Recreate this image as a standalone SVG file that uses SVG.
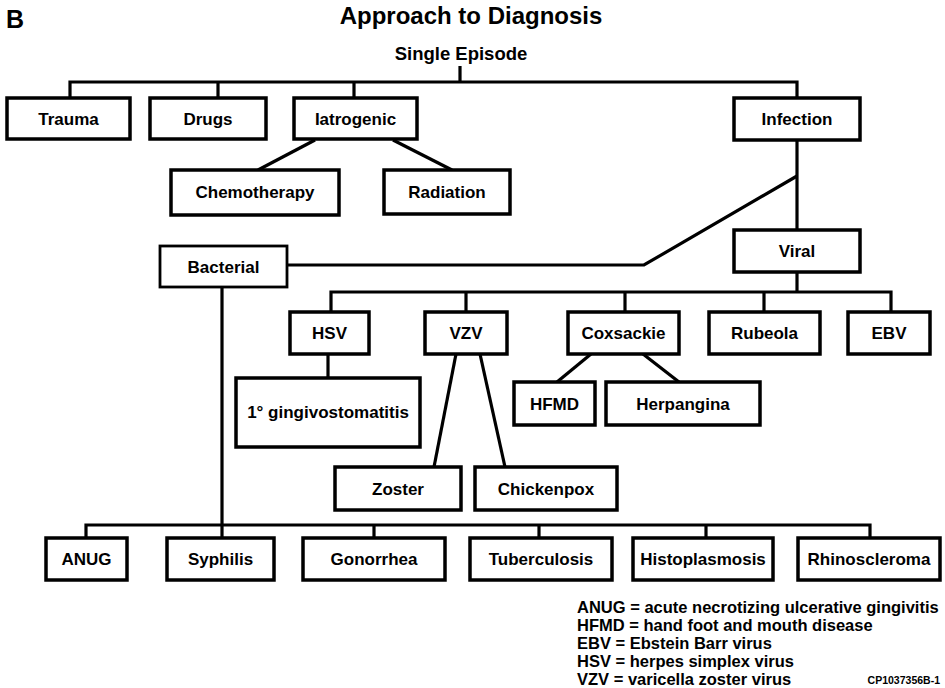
<svg xmlns="http://www.w3.org/2000/svg" width="945" height="688" viewBox="0 0 945 688">
<style>
text{font-family:"Liberation Sans",Arial,sans-serif;font-weight:bold;fill:#000}
.lbl{font-size:17px;text-anchor:middle}
.box{fill:#fff;stroke:#000;stroke-width:3.5}
.thin{stroke-width:2.8}
.con line,.con polyline{stroke:#000;stroke-width:3.2;fill:none;stroke-linejoin:miter}
.leg{font-size:16.5px}
</style>
<rect width="945" height="688" fill="#fff"/>
<text x="6" y="28" font-size="25">B</text>
<text x="471" y="24" font-size="24" text-anchor="middle">Approach to Diagnosis</text>
<text x="461" y="60" font-size="18.5" text-anchor="middle">Single Episode</text>

<g class="con">
<line x1="460" y1="66" x2="460" y2="82"/>
<polyline points="70,98 70,82 797,82 797,98"/>
<line x1="218" y1="82" x2="218" y2="98"/>
<line x1="354" y1="82" x2="354" y2="98"/>
<line x1="315" y1="140" x2="258" y2="170"/>
<line x1="393" y1="140" x2="452" y2="170"/>
<line x1="797" y1="140" x2="797" y2="229"/>
<polyline points="797,176 644,265 287,265"/>
<line x1="222" y1="287" x2="222" y2="538"/>
<line x1="797" y1="272" x2="797" y2="292"/>
<polyline points="331,312 331,292 891,292 891,312"/>
<line x1="466" y1="292" x2="466" y2="312"/>
<line x1="625" y1="292" x2="625" y2="312"/>
<line x1="764" y1="292" x2="764" y2="312"/>
<line x1="328" y1="354" x2="328" y2="378"/>
<line x1="456" y1="354" x2="434" y2="467"/>
<line x1="480" y1="354" x2="505" y2="467"/>
<line x1="591" y1="354" x2="557" y2="382"/>
<line x1="643" y1="354" x2="679" y2="382"/>
<polyline points="86,538 86,525 870,525 870,538"/>
<line x1="374" y1="525" x2="374" y2="538"/>
<line x1="539" y1="525" x2="539" y2="538"/>
<line x1="706" y1="525" x2="706" y2="538"/>
</g>

<g id="trauma"><rect class="box" x="7" y="98" width="123" height="41"/><text class="lbl" x="68.5" y="125">Trauma</text></g>
<g id="drugs"><rect class="box" x="150" y="98" width="116" height="41"/><text class="lbl" x="208" y="125">Drugs</text></g>
<g id="iatrogenic"><rect class="box" x="294" y="98" width="123" height="41"/><text class="lbl" x="355.5" y="125">Iatrogenic</text></g>
<g id="infection"><rect class="box" x="734" y="98" width="126" height="42"/><text class="lbl" x="797" y="125">Infection</text></g>
<g id="chemotherapy"><rect class="box" x="171" y="170" width="168" height="45"/><text class="lbl" x="255" y="198">Chemotherapy</text></g>
<g id="radiation"><rect class="box" x="384" y="170" width="126" height="44"/><text class="lbl" x="447" y="198">Radiation</text></g>
<g id="bacterial"><rect class="box thin" x="160" y="246" width="127" height="41"/><text class="lbl" x="223.5" y="273">Bacterial</text></g>
<g id="viral"><rect class="box" x="734" y="230" width="126" height="42"/><text class="lbl" x="797" y="257">Viral</text></g>
<g id="hsv"><rect class="box" x="290" y="312" width="79" height="42"/><text class="lbl" x="329.5" y="339">HSV</text></g>
<g id="vzv"><rect class="box" x="425" y="312" width="82" height="42"/><text class="lbl" x="466" y="339">VZV</text></g>
<g id="coxsackie"><rect class="box" x="568" y="312" width="111" height="42"/><text class="lbl" x="623.5" y="339">Coxsackie</text></g>
<g id="rubeola"><rect class="box" x="709" y="312" width="111" height="42"/><text class="lbl" x="764.5" y="339">Rubeola</text></g>
<g id="ebv"><rect class="box" x="848" y="312" width="82" height="42"/><text class="lbl" x="889" y="339">EBV</text></g>
<g id="gingivostomatitis"><rect class="box" x="236" y="378" width="184" height="69"/><text class="lbl" x="328" y="418">1° gingivostomatitis</text></g>
<g id="hfmd"><rect class="box" x="514" y="382" width="81" height="43"/><text class="lbl" x="554.5" y="410">HFMD</text></g>
<g id="herpangina"><rect class="box" x="606" y="382" width="154" height="43"/><text class="lbl" x="683" y="410">Herpangina</text></g>
<g id="zoster"><rect class="box" x="335" y="467" width="126" height="43"/><text class="lbl" x="398" y="495">Zoster</text></g>
<g id="chickenpox"><rect class="box" x="475" y="467" width="142" height="43"/><text class="lbl" x="546" y="495">Chickenpox</text></g>
<g id="anug"><rect class="box" x="46" y="538" width="81" height="42"/><text class="lbl" x="86.5" y="565">ANUG</text></g>
<g id="syphilis"><rect class="box" x="167" y="538" width="107" height="42"/><text class="lbl" x="220.5" y="565">Syphilis</text></g>
<g id="gonorrhea"><rect class="box" x="303" y="538" width="142" height="42"/><text class="lbl" x="374" y="565">Gonorrhea</text></g>
<g id="tuberculosis"><rect class="box" x="470" y="538" width="142" height="42"/><text class="lbl" x="541" y="565">Tuberculosis</text></g>
<g id="histoplasmosis"><rect class="box" x="633" y="538" width="140" height="42"/><text class="lbl" x="703" y="565">Histoplasmosis</text></g>
<g id="rhinoscleroma"><rect class="box" x="798" y="538" width="142" height="42"/><text class="lbl" x="869" y="565">Rhinoscleroma</text></g>

<g id="legend">
<text class="leg" x="577" y="613">ANUG = acute necrotizing ulcerative gingivitis</text>
<text class="leg" x="577" y="631">HFMD = hand foot and mouth disease</text>
<text class="leg" x="577" y="649">EBV = Ebstein Barr virus</text>
<text class="leg" x="577" y="667">HSV = herpes simplex virus</text>
<text class="leg" x="577" y="685">VZV = varicella zoster virus</text>
<text x="940" y="684" font-size="10.5" text-anchor="end">CP1037356B-1</text>
</g>
</svg>
